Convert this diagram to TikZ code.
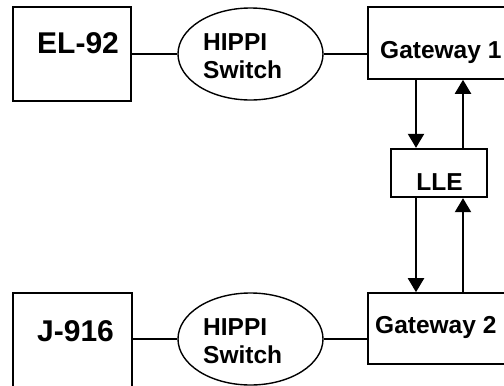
\documentclass[tikz,border=0pt]{standalone}
\usepackage{fontspec}
\setmainfont{Liberation Sans}
\usetikzlibrary{shapes.geometric,arrows.meta}
\tikzstyle{hostbox}=[draw=black,line width=2.7pt,rectangle,inner sep=0pt]
\tikzstyle{gatebox}=[draw=black,line width=1.6pt,rectangle,inner sep=0pt]
\tikzstyle{llebox}=[draw=black,line width=2.3pt,rectangle,inner sep=0pt]
\tikzstyle{switch}=[draw=black,line width=1.4pt,ellipse,inner sep=0pt,minimum width=145pt,minimum height=92pt]
\tikzstyle{bigtext}=[font=\fontsize{30}{34}\selectfont\bfseries,inner sep=0pt,anchor=base west]
\tikzstyle{midtext}=[font=\fontsize{24.5}{28}\selectfont\bfseries,inner sep=0pt,align=left]
\tikzstyle{link}=[line width=2.1pt]
\tikzstyle{flow}=[line width=2.1pt,-{Triangle[length=14pt,width=16pt]}]

\begin{document}
\begin{tikzpicture}[x=1pt,y=-1pt]
	\useasboundingbox (0,0) rectangle (504,386);
	\node (el92) [hostbox,minimum width=118pt,minimum height=94pt] at (72,54) {};
	\node (j916) [hostbox,minimum width=119pt,minimum height=104pt] at (72.5,345) {};
	\node (sw1) [switch] at (250.5,54) {};
	\node (sw2) [switch] at (250.5,339) {};
	\node (gw1) [gatebox,minimum width=160pt,minimum height=72pt] at (448,43) {};
	\node (gw2) [gatebox,minimum width=160pt,minimum height=71pt] at (448,328.5) {};
	\node (lle) [llebox,minimum width=96pt,minimum height=48pt] at (439,173) {};
	\node (el92t) [bigtext] at (37,53) {EL-92};
	\node (j916t) [bigtext] at (37,341) {J-916};
	\node (sw1t) [midtext,anchor=north west] at (203,33) {HIPPI\\Switch};
	\node (sw2t) [midtext,anchor=north west] at (203,318) {HIPPI\\Switch};
	\node (gw1t) [midtext,anchor=base west] at (380,58) {Gateway 1};
	\node (gw2t) [midtext,anchor=base west] at (375,333) {Gateway 2};
	\node (llet) [midtext,anchor=base] at (439.5,190) {LLE};
	\coordinate (dnx) at (416,0);
	\coordinate (upx) at (463,0);
	\draw[link] (el92.east) -- (sw1.west);
	\draw[link] (sw1.east) -- (sw1.east -| gw1.west);
	\draw[link] (j916.east |- sw2.west) -- (sw2.west);
	\draw[link] (sw2.east) -- (sw2.east -| gw2.west);
	\draw[flow] (gw1.south -| dnx) -- (lle.north -| dnx);
	\draw[flow] (lle.north -| upx) -- (gw1.south -| upx);
	\draw[flow] (lle.south -| dnx) -- (gw2.north -| dnx);
	\draw[flow] (gw2.north -| upx) -- (lle.south -| upx);
\end{tikzpicture}
\end{document}
